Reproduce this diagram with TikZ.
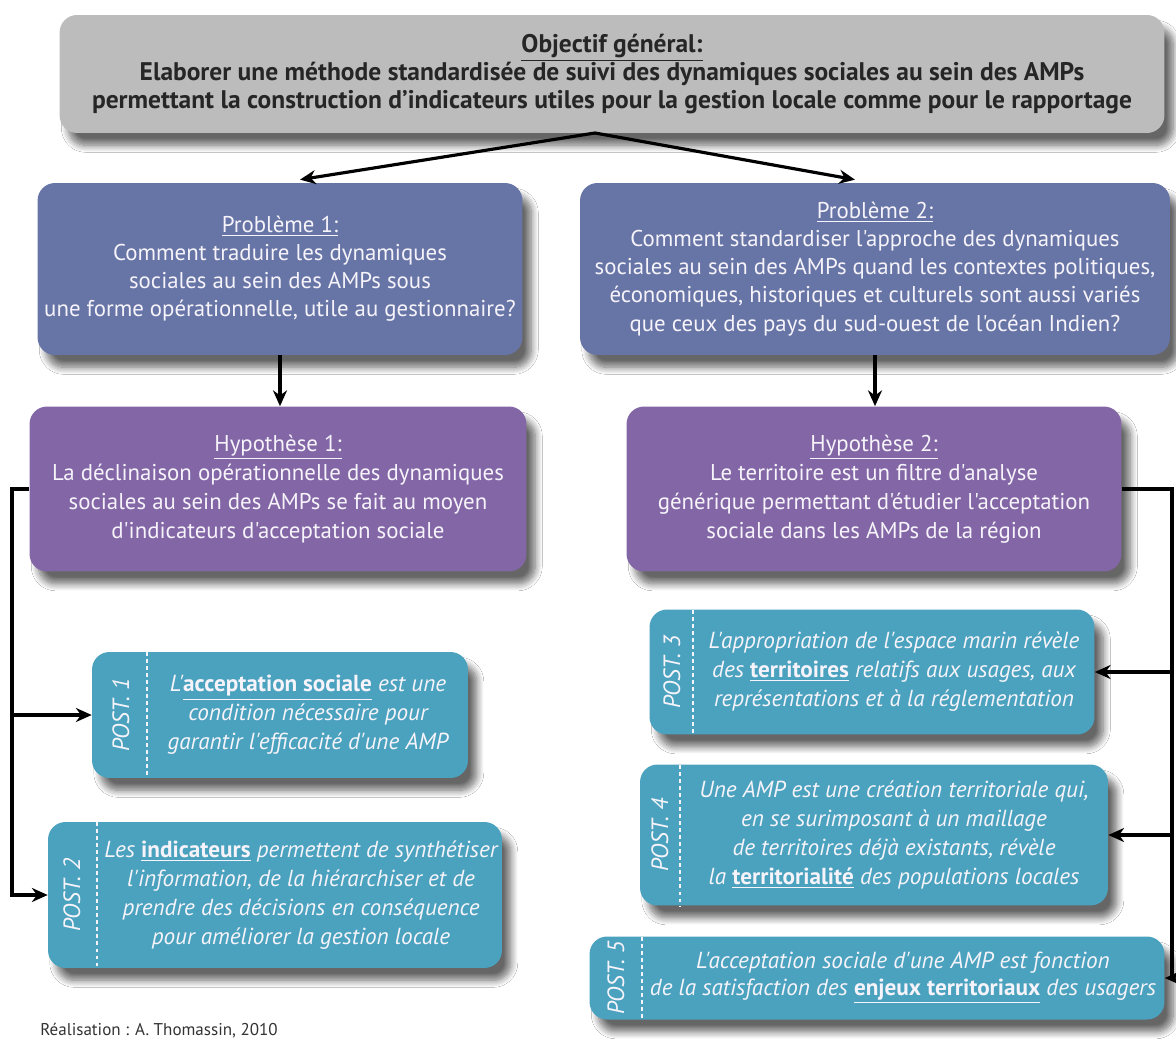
\documentclass[tikz,border=0pt]{standalone}
\usepackage{fontspec}
\setmainfont{PT Sans}[Ligatures=TeXOff]
\usetikzlibrary{calc,arrows.meta,shadows.blur}

\definecolor{objgray}{RGB}{188,188,188}
\definecolor{pbblue}{RGB}{103,116,166}
\definecolor{hyppurple}{RGB}{131,102,166}
\definecolor{postteal}{RGB}{74,162,190}
\definecolor{lighttext}{RGB}{246,244,250}
\newcommand{\kw}[1]{\underline{\textbf{\upshape #1}}}

\begin{document}
\begin{tikzpicture}[x=0.02cm,y=-0.02cm,
  box/.style={rounded corners=0.35cm, inner sep=0pt, align=center,
    blur shadow={shadow xshift=5pt, shadow yshift=-7pt, shadow blur radius=4pt, shadow blur steps=10, shadow opacity=60}},
  objbox/.style={box, fill=objgray, text=black!85, font=\fontsize{14.5}{15.9}\selectfont\bfseries},
  pbbox/.style={box, fill=pbblue, text=lighttext, font=\fontsize{13}{16}\selectfont},
  hypbox/.style={box, fill=hyppurple, text=lighttext, font=\fontsize{13}{16.5}\selectfont},
  postbox/.style={box, fill=postteal},
  posttext/.style={text=lighttext, align=center, inner sep=0pt, font=\fontsize{13.2}{16.5}\selectfont\itshape},
  postlabel/.style={text=lighttext, rotate=90, inner sep=0pt, font=\fontsize{13.4}{14}\selectfont\itshape},
  dashline/.style={lighttext, dash pattern=on 2pt off 2pt, line width=1pt},
  link/.style={line width=1.8pt, -{Stealth[length=9pt,width=8pt]}},
  ]
  \useasboundingbox (0,0) rectangle (1176,1044);
  \fill[white] (0,0) rectangle (1176,1044);

  \node[objbox, minimum width=22.1cm, minimum height=2.36cm] (obj) at (612,74)
    {\underline{Objectif général:}\\
     Elaborer une méthode standardisée de suivi des dynamiques sociales au sein des AMPs\\
     permettant la construction d’indicateurs utiles pour la gestion locale comme pour le rapportage};

  \node[pbbox, minimum width=9.7cm, minimum height=3.44cm] (pb1) at (280,269)
    {\underline{Problème 1:}\\
     Comment traduire les dynamiques\\
     sociales au sein des AMPs sous\\
     une forme opérationnelle, utile au gestionnaire?};
  \node[pbbox, minimum width=11.8cm, minimum height=3.44cm] (pb2) at (875,269)
    {\underline{Problème 2:}\\
     Comment standardiser l'approche des dynamiques\\
     sociales au sein des AMPs quand les contextes politiques,\\
     économiques, historiques et culturels sont aussi variés\\
     que ceux des pays du sud-ouest de l'océan Indien?};

  \node[hypbox, minimum width=9.94cm, minimum height=3.3cm] (hyp1) at (278,489)
    {\underline{Hypothèse 1:}\\
     La déclinaison opérationnelle des dynamiques\\
     sociales au sein des AMPs se fait au moyen\\
     d'indicateurs d'acceptation sociale};
  \node[hypbox, minimum width=9.9cm, minimum height=3.3cm] (hyp2) at (874,489)
    {\underline{Hypothèse 2:}\\
     Le territoire est un filtre d'analyse\\
     générique permettant d'étudier l'acceptation\\
     sociale dans les AMPs de la région};

  \node[postbox, minimum width=7.52cm, minimum height=2.52cm] (post1) at (280,715) {};
  \node[postbox, minimum width=9.08cm, minimum height=2.92cm] (post2) at (275,895) {};
  \node[postbox, minimum width=8.9cm, minimum height=2.5cm] (post3) at (872,672) {};
  \node[postbox, minimum width=9.36cm, minimum height=2.82cm] (post4) at (874,835) {};
  \node[postbox, minimum width=11.5cm, minimum height=1.66cm] (post5) at (877,978) {};

  \draw[dashline] (147,652) -- (147,778);
  \draw[dashline] (97,822) -- (97,968);
  \draw[dashline] (693,610) -- (693,735);
  \draw[dashline] (680,765) -- (680,906);
  \draw[dashline] (642,937) -- (642,1020);

  \node[postlabel] (lab1) at (121,715) {POST. 1};
  \node[postlabel] (lab2) at (72,895) {POST. 2};
  \node[postlabel] (lab3) at (672,672) {POST. 3};
  \node[postlabel] (lab4) at (660,835) {POST. 4};
  \node[postlabel] (lab5) at (616,978) {POST. 5};

  \node[posttext] (txt1) at (308,715)
    {L'\kw{acceptation sociale} est une\\
     condition nécessaire pour\\
     garantir l'efficacité d'une AMP};
  \node[posttext] (txt2) at (301,895)
    {Les \kw{indicateurs} permettent de synthétiser\\
     l'information, de la hiérarchiser et de\\
     prendre des décisions en conséquence\\
     pour améliorer la gestion locale};
  \node[posttext] (txt3) at (894,672)
    {L'appropriation de l'espace marin révèle\\
     des \kw{territoires} relatifs aux usages, aux\\
     représentations et à la réglementation};
  \node[posttext] (txt4) at (894,835)
    {Une AMP est une création territoriale qui,\\
     en se surimposant à un maillage\\
     de territoires déjà existants, révèle\\
     la \kw{territorialité} des populations locales};
  \node[posttext, font=\fontsize{13.2}{15}\selectfont\itshape] (txt5) at (903,978)
    {L'acceptation sociale d'une AMP est fonction\\
     de la satisfaction des \kw{enjeux territoriaux} des usagers};

  \coordinate (split) at (595,133);
  \draw[link] (split) -- ([xshift=0.4cm,yshift=0.06cm]pb1.north);
  \draw[link] (split) -- ([xshift=-0.4cm,yshift=0.06cm]pb2.north);
  \draw[link] (pb1.south) -- (pb1.south |- hyp1.north);
  \draw[link] (pb2.south) -- (pb2.south |- hyp2.north);

  \coordinate (lbus) at (12,489);
  \coordinate (rbus) at (1172,489);
  \draw[link] (hyp1.west) -- (lbus) |- (post2.west);
  \draw[link] (lbus |- post1.west) -- (post1.west);
  \draw[link] (hyp2.east) -- (rbus) |- (post5.east);
  \draw[link] (rbus |- post3.east) -- (post3.east);
  \draw[link] (rbus |- post4.east) -- (post4.east);

  \node[anchor=west, inner sep=0pt, text=black!80, font=\fontsize{9.7}{11}\selectfont] (credit) at (40,1031)
    {Réalisation : A. Thomassin, 2010};
\end{tikzpicture}
\end{document}
